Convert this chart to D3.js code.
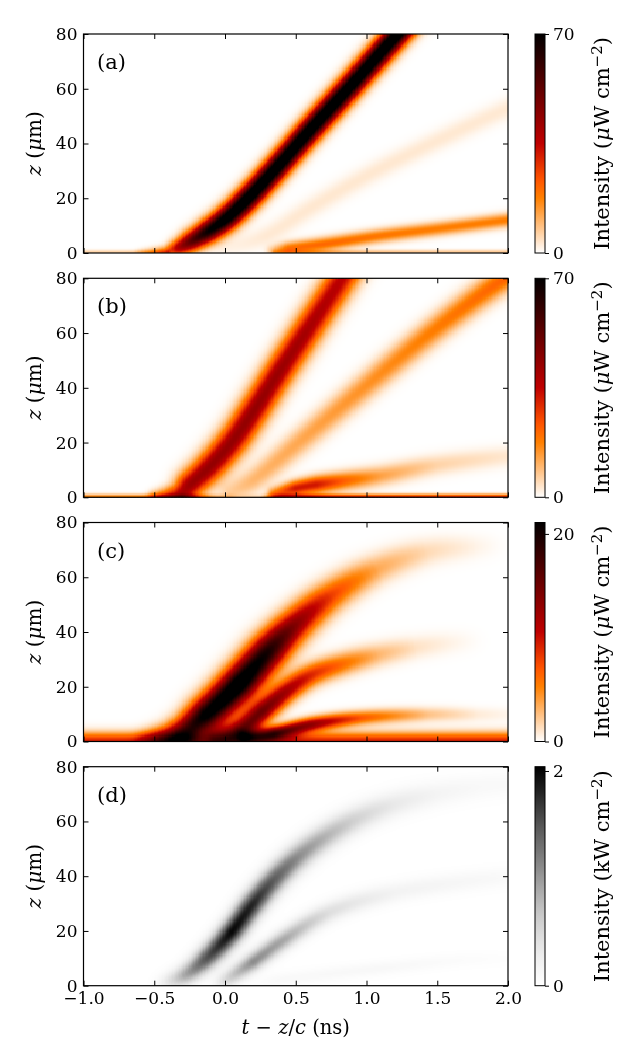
<!DOCTYPE html>
<html>
<head>
<meta charset="utf-8">
<script src="https://cdn.jsdelivr.net/npm/d3@7"></script>
<style>
  body { margin: 0; background: #fff; }
  #wrap { position: relative; width: 640px; height: 1063px; }
  canvas, svg { position: absolute; left: 0; top: 0; }
  svg text { font-family: "DejaVu Serif", "Liberation Serif", serif; fill: #000; }
</style>
</head>
<body>
<div id="wrap">
  <canvas id="heat" width="640" height="1063"></canvas>
  <svg id="chart" width="640" height="1063"></svg>
</div>
<script>
// axis ticks
var tTicks = [-1.0, -0.5, 0.0, 0.5, 1.0, 1.5, 2.0];
var zTicks = [0, 20, 40, 60, 80];
var panelLabels = ['(a)', '(b)', '(c)', '(d)'];

// colour bar ranges and ticks
var barMax = [70, 70, 21.1, 2.04];
var barTicks = [[0, 70], [0, 70], [0, 20], [0, 2]];
var barUnits = ['\u03bcW', '\u03bcW', '\u03bcW', 'kW'];

// intensity ridges:
// t = centre time (ns), z = position (um), peak = intensity, w = width (ns)
var a1 = { t: [-0.60, -0.41, -0.32, -0.23, -0.11, 0.02, 0.17, 0.39, 0.60, 0.87, 1.22, 1.40],
           z: [0.3, 0.8, 2.2, 4.6, 8.3, 13.1, 20.4, 32.6, 44.8, 60, 80, 90],
           peak: [4, 20, 40, 55, 70, 78, 80, 80, 80, 80, 80, 80],
           w: [0.02, 0.03, 0.042, 0.05, 0.054, 0.056, 0.056, 0.056, 0.056, 0.056, 0.056, 0.056] };
var a2 = { t: [0.0, 0.29, 0.62, 1.09, 1.98, 2.2],
           z: [1.5, 6.4, 17, 30.7, 52.5, 57],
           peak: [1.5, 3, 3.2, 3.2, 3, 3],
           w: [0.05, 0.05, 0.05, 0.05, 0.05, 0.05] };
var a3 = { t: [0.34, 0.45, 0.70, 1.09, 1.50, 2.00, 2.20],
           z: [0.8, 1.8, 3.4, 6.4, 9.0, 12.2, 13.5],
           peak: [8, 20, 21, 19, 18, 18, 18],
           w: [0.03, 0.032, 0.034, 0.034, 0.034, 0.034, 0.034] };
var a4 = { t: [-1.1, -0.70, -0.50, -0.40],
           z: [0.4, 0.4, 0.4, 0.4],
           peak: [6, 6, 8, 10],
           w: [0.012, 0.012, 0.012, 0.012] };
var a5 = { t: [0.35, 0.6, 1.0, 1.5, 2.1],
           z: [0.5, 0.5, 0.5, 0.5, 0.5],
           peak: [6, 9, 8, 7, 7],
           w: [0.012, 0.012, 0.012, 0.012, 0.012] };

var b1 = { t: [-0.50, -0.38, -0.30, -0.24, -0.11, 0.057, 0.22, 0.374, 0.57, 0.83, 0.96],
           z: [0.4, 0.9, 1.9, 4.9, 11, 20.7, 32.8, 45, 60, 80, 90],
           peak: [14, 28, 38, 42, 43, 43, 43, 42, 40, 36, 34],
           w: [0.03, 0.045, 0.058, 0.066, 0.07, 0.072, 0.072, 0.072, 0.072, 0.072, 0.072] };
var b2 = { t: [0.05, 0.20, 0.52, 0.98, 1.45, 1.89, 2.10],
           z: [2, 6.4, 20, 40, 60, 77, 84],
           peak: [7, 10, 12, 15, 18, 21, 22],
           w: [0.058, 0.058, 0.06, 0.062, 0.062, 0.062, 0.062] };
var b3 = { t: [0.35, 0.50, 0.65, 0.85, 1.10, 1.50, 2.05],
           z: [1.5, 3.4, 4.8, 6.2, 8.0, 12, 15.5],
           peak: [18, 32, 32, 22, 13, 6, 3],
           w: [0.032, 0.038, 0.042, 0.045, 0.048, 0.05, 0.05] };
var b4 = { t: [-1.1, -0.5, -0.30, -0.05, 0.10, 0.25, 0.40, 0.60, 1.0, 2.1],
           z: [0.4, 0.4, 0.4, 0.4, 0.4, 0.4, 0.4, 0.4, 0.4, 0.4],
           peak: [18, 18, 22, 8, 2, 4, 25, 30, 30, 30],
           w: [0.013, 0.013, 0.013, 0.013, 0.013, 0.013, 0.013, 0.013, 0.013, 0.013] };

var c1 = { t: [-0.55, -0.32, -0.13, 0.10, 0.31, 0.50, 0.76, 1.09, 1.44, 1.77, 1.95],
           z: [0.8, 2.8, 10, 21, 33, 42.8, 53.7, 63.4, 69.5, 71.3, 71.8],
           peak: [4, 16, 22, 24, 20, 14, 8, 3.5, 1.5, 0.5, 0],
           w: [0.05, 0.07, 0.08, 0.085, 0.085, 0.08, 0.075, 0.07, 0.065, 0.06, 0.06] };
var c2 = { t: [-0.05, 0.10, 0.27, 0.45, 0.62, 0.85, 1.09, 1.35, 1.60, 1.80],
           z: [1.5, 4, 11.3, 19, 24.6, 28.7, 31.9, 34.5, 36.2, 37],
           peak: [8, 15, 15, 12, 9, 6, 3, 1.2, 0.5, 0],
           w: [0.055, 0.055, 0.055, 0.055, 0.055, 0.055, 0.055, 0.055, 0.055, 0.055] };
var c3 = { t: [0.15, 0.35, 0.62, 0.97, 1.44, 1.79, 2.05],
           z: [1.5, 3.2, 6.4, 8.8, 10, 10, 10],
           peak: [8, 15, 13, 7, 2.5, 0.8, 0.3],
           w: [0.035, 0.035, 0.035, 0.035, 0.035, 0.035, 0.035] };
var c4 = { t: [-1.1, 2.1],
           z: [0, 0],
           peak: [9.5, 9.5],
           w: [0.046, 0.046] };

var d1 = { t: [-0.45, -0.28, -0.13, 0.05, 0.20, 0.37, 0.55, 0.74, 0.95, 1.20, 1.50, 1.80, 2.1],
           z: [0.5, 4, 10, 19.8, 30, 40, 48.5, 55.5, 61.5, 66.5, 70.3, 72.8, 74.3],
           peak: [0.1, 0.9, 1.5, 2.0, 1.8, 1.4, 1.05, 0.8, 0.55, 0.33, 0.18, 0.11, 0.09],
           w: [0.045, 0.05, 0.055, 0.058, 0.06, 0.062, 0.064, 0.064, 0.064, 0.064, 0.064, 0.064, 0.064] };
var d2 = { t: [-0.05, 0.01, 0.20, 0.43, 0.74, 1.21, 1.98, 2.2],
           z: [0.5, 2.2, 8.8, 17.3, 27, 34.3, 39.8, 40.5],
           peak: [0.1, 0.5, 1.1, 0.9, 0.45, 0.2, 0.1, 0.1],
           w: [0.042, 0.042, 0.045, 0.048, 0.05, 0.05, 0.05, 0.05] };
var d3r = { t: [0.20, 0.38, 1.09, 1.68, 1.98, 2.2],
            z: [0.5, 2.2, 6.4, 9.5, 10, 10.3],
            peak: [0.03, 0.1, 0.12, 0.06, 0.03, 0.02],
            w: [0.035, 0.035, 0.035, 0.035, 0.035, 0.035] };

var panelRidges = [[a1, a2, a3, a4, a5], [b1, b2, b3, b4], [c1, c2, c3, c4], [d1, d2, d3r]];

// layout
var left = 83.5, right = 508, plotH = 219;
var tops = [34, 278.3, 522.5, 766.7];
var barX = 535, barW = 10;
var dt = 0.01, dz = 0.4;
var serif = '"DejaVu Serif", "Liberation Serif", serif';

var svg = d3.select('#chart');
var ctx = document.getElementById('heat').getContext('2d');

// reversed gist_heat
var heatR = function (v) {
  var x = 1 - Math.max(0, Math.min(1, v));
  var r = Math.min(1, 1.5 * x),
      g = Math.max(0, Math.min(1, 2 * x - 1)),
      b = Math.max(0, Math.min(1, 4 * x - 3));
  return 'rgb(' + Math.round(r * 255) + ',' + Math.round(g * 255) + ',' + Math.round(b * 255) + ')';
};
var colourMaps = [heatR, heatR, heatR, d3.interpolateGreys];

var toPixels = function (ridge, x, y) {
  return ridge.t.map(function (t, i) {
    return { px: x(t), py: y(ridge.z[i]), I: ridge.peak[i], s: x(ridge.w[i]) - x(0) };
  });
};

// centripetal Catmull-Rom through the ridge points, so the centre line bends smoothly
var smooth = function (pts, n) {
  if (pts.length < 3) return pts;
  var last = pts.length - 1;
  var P = function (i) {
    if (i < 0) return { px: 2 * pts[0].px - pts[1].px, py: 2 * pts[0].py - pts[1].py };
    if (i > last) return { px: 2 * pts[last].px - pts[last - 1].px, py: 2 * pts[last].py - pts[last - 1].py };
    return pts[i];
  };
  var knot = function (a, b) { return Math.sqrt(Math.hypot(b.px - a.px, b.py - a.py)) || 1e-6; };
  var out = [];
  for (var k = 0; k < last; k++) {
    var p0 = P(k - 1), p1 = P(k), p2 = P(k + 1), p3 = P(k + 2);
    var t0 = 0, t1 = t0 + knot(p0, p1), t2 = t1 + knot(p1, p2), t3 = t2 + knot(p2, p3);
    for (var j = 0; j < n; j++) {
      var u = j / n, t = t1 + u * (t2 - t1);
      var mix = function (a, b, ta, tb) {
        var f = (t - ta) / (tb - ta);
        return [a[0] + f * (b[0] - a[0]), a[1] + f * (b[1] - a[1])];
      };
      var A1 = mix([p0.px, p0.py], [p1.px, p1.py], t0, t1),
          A2 = mix([p1.px, p1.py], [p2.px, p2.py], t1, t2),
          A3 = mix([p2.px, p2.py], [p3.px, p3.py], t2, t3);
      var B1 = mix(A1, A2, t0, t2), B2 = mix(A2, A3, t1, t3);
      var C = mix(B1, B2, t1, t2);
      out.push({ px: C[0], py: C[1], I: p1.I + u * (p2.I - p1.I), s: p1.s + u * (p2.s - p1.s) });
    }
  }
  out.push(pts[last]);
  return out;
};

// each ridge gives its strongest segment contribution; ridges add up
var field = function (px, py, ridges) {
  var v = 0;
  ridges.forEach(function (pts) {
    var best = 0;
    for (var k = 0; k < pts.length - 1; k++) {
      var a = pts[k], b = pts[k + 1];
      var ex = b.px - a.px, ey = b.py - a.py, L2 = ex * ex + ey * ey;
      var u = L2 > 0 ? ((px - a.px) * ex + (py - a.py) * ey) / L2 : 0;
      u = Math.max(0, Math.min(1, u));
      var qx = a.px + u * ex - px, qy = a.py + u * ey - py, d2 = qx * qx + qy * qy;
      var s = a.s + u * (b.s - a.s);
      if (d2 < 20 * s * s) {
        var val = (a.I + u * (b.I - a.I)) * Math.exp(-0.5 * d2 / (s * s));
        if (val > best) best = val;
      }
    }
    v += best;
  });
  return v;
};

var tGrid = d3.range(-1, 2 - dt / 2, dt);
var zGrid = d3.range(0, 80 - dz / 2, dz);

tops.forEach(function (top, p) {
  var x = d3.scaleLinear().domain([-1, 2]).range([left, right]);
  var y = d3.scaleLinear().domain([0, 80]).range([top + plotH, top]);
  var ridges = panelRidges[p].map(function (r) { return smooth(toPixels(r, x, y), 8); });
  var cmap = colourMaps[p];

  // heat map cells
  ctx.save();
  ctx.beginPath();
  ctx.rect(left, top, right - left, plotH);
  ctx.clip();
  tGrid.forEach(function (t) {
    var x0 = Math.floor(x(t)), x1 = Math.ceil(x(t + dt));
    var cx = x(t + dt / 2);
    zGrid.forEach(function (z) {
      var y0 = Math.floor(y(z + dz)), y1 = Math.ceil(y(z));
      var v = field(cx, y(z + dz / 2), ridges) / barMax[p];
      ctx.fillStyle = cmap(Math.min(1, v));
      ctx.fillRect(x0, y0, x1 - x0, y1 - y0);
    });
  });
  ctx.restore();

  var g = svg.append('g');

  // axes, ticks pointing inwards on all four sides
  g.append('g').attr('transform', 'translate(0,' + (top + plotH) + ')')
    .call(d3.axisBottom(x).tickValues(tTicks).tickSize(-5).tickPadding(6)
      .tickFormat(p === 3 ? d3.format('.1f') : ''));
  g.append('g').attr('transform', 'translate(0,' + top + ')')
    .call(d3.axisTop(x).tickValues(tTicks).tickSize(-5).tickFormat(''));
  g.append('g').attr('transform', 'translate(' + left + ',0)')
    .call(d3.axisLeft(y).tickValues(zTicks).tickSize(-5).tickPadding(6));
  g.append('g').attr('transform', 'translate(' + right + ',0)')
    .call(d3.axisRight(y).tickValues(zTicks).tickSize(-5).tickFormat(''));
  g.selectAll('.domain').remove();
  g.selectAll('g').attr('font-family', serif).attr('font-size', 17);
  g.selectAll('.tick line').attr('stroke-width', 1);
  g.append('rect').attr('x', left).attr('y', top).attr('width', right - left).attr('height', plotH)
    .attr('fill', 'none').attr('stroke', '#000').attr('stroke-width', 1.2);

  g.append('text').attr('x', 97).attr('y', top + 35).attr('font-size', 21).text(panelLabels[p]);

  // y label
  var yl = g.append('text').attr('transform', 'translate(41,' + (top + plotH / 2) + ') rotate(-90)')
    .attr('text-anchor', 'middle').attr('font-size', 20);
  yl.append('tspan').attr('font-style', 'italic').text('z');
  yl.append('tspan').text(' (');
  yl.append('tspan').attr('font-style', 'italic').text('\u03bc');
  yl.append('tspan').text('m)');

  // colour bar
  var cb = d3.scaleLinear().domain([0, barMax[p]]).range([top + plotH, top]);
  var gradId = 'grad' + p;
  var grad = svg.append('defs').append('linearGradient').attr('id', gradId)
    .attr('x1', 0).attr('y1', 1).attr('x2', 0).attr('y2', 0);
  d3.range(0, 1.0001, 0.025).forEach(function (s) {
    grad.append('stop').attr('offset', s).attr('stop-color', cmap(s));
  });
  g.append('rect').attr('x', barX).attr('y', top).attr('width', barW).attr('height', plotH)
    .attr('fill', 'url(#' + gradId + ')').attr('stroke', '#000').attr('stroke-width', 1);
  var cbAxis = g.append('g').attr('transform', 'translate(' + (barX + barW) + ',0)')
    .call(d3.axisRight(cb).tickValues(barTicks[p]).tickSize(4).tickPadding(4).tickFormat(d3.format('d')));
  cbAxis.select('.domain').remove();
  cbAxis.attr('font-family', serif).attr('font-size', 17);

  var cl = g.append('text').attr('transform', 'translate(609,' + (top + plotH / 2) + ') rotate(-90)')
    .attr('text-anchor', 'middle').attr('font-size', 21);
  cl.append('tspan').text('Intensity (');
  if (barUnits[p] !== 'kW') cl.append('tspan').attr('font-style', 'italic').text('\u03bc');
  cl.append('tspan').text(barUnits[p] === 'kW' ? 'kW cm' : 'W cm');
  cl.append('tspan').attr('dy', '-0.45em').attr('font-size', 15).text('\u22122');
  cl.append('tspan').attr('dy', '0.32em').text(')');
});

// x label
var xl = svg.append('text').attr('x', (left + right) / 2).attr('y', 1034)
  .attr('text-anchor', 'middle').attr('font-size', 19.5);
xl.append('tspan').attr('font-style', 'italic').text('t');
xl.append('tspan').text(' \u2212 ');
xl.append('tspan').attr('font-style', 'italic').text('z');
xl.append('tspan').text('/');
xl.append('tspan').attr('font-style', 'italic').text('c');
xl.append('tspan').text(' (ns)');
</script>
</body>
</html>
